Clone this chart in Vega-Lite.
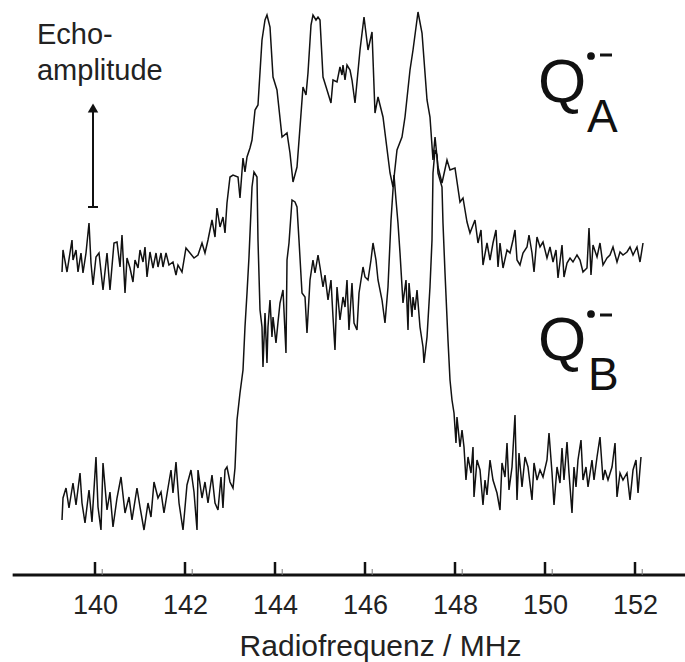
{
"$schema": "https://vega.github.io/schema/vega-lite/v6.json",
"width": 685, "height": 575,
"autosize": {"type": "none"},
"padding": {"left": 0, "top": 0, "right": 0, "bottom": 87},
"background": "white",
"config": {"view": {"stroke": null}, "font": "Liberation Sans"},
"datasets": {
"spectra": [
{"trace":"A","f":139.267,"a":303},{"trace":"A","f":139.289,"a":325},{"trace":"A","f":139.378,"a":303},{"trace":"A","f":139.489,"a":335},{"trace":"A","f":139.511,"a":315},{"trace":"A","f":139.578,"a":325},{"trace":"A","f":139.622,"a":303},{"trace":"A","f":139.689,"a":322},{"trace":"A","f":139.733,"a":302},{"trace":"A","f":139.8,"a":322},{"trace":"A","f":139.867,"a":352},{"trace":"A","f":139.911,"a":312},{"trace":"A","f":139.956,"a":290},{"trace":"A","f":140.022,"a":318},{"trace":"A","f":140.089,"a":322},{"trace":"A","f":140.178,"a":285},{"trace":"A","f":140.267,"a":322},{"trace":"A","f":140.333,"a":285},{"trace":"A","f":140.422,"a":332},{"trace":"A","f":140.489,"a":333},{"trace":"A","f":140.556,"a":308},{"trace":"A","f":140.6,"a":340},{"trace":"A","f":140.667,"a":282},{"trace":"A","f":140.711,"a":317},{"trace":"A","f":140.778,"a":307},{"trace":"A","f":140.844,"a":293},{"trace":"A","f":140.889,"a":315},{"trace":"A","f":140.956,"a":307},{"trace":"A","f":141.0,"a":325},{"trace":"A","f":141.067,"a":313},{"trace":"A","f":141.111,"a":328},{"trace":"A","f":141.156,"a":298},{"trace":"A","f":141.222,"a":323},{"trace":"A","f":141.289,"a":307},{"trace":"A","f":141.356,"a":322},{"trace":"A","f":141.4,"a":308},{"trace":"A","f":141.467,"a":322},{"trace":"A","f":141.511,"a":308},{"trace":"A","f":141.578,"a":322},{"trace":"A","f":141.644,"a":310},{"trace":"A","f":141.733,"a":313},{"trace":"A","f":141.8,"a":300},{"trace":"A","f":141.844,"a":310},{"trace":"A","f":141.933,"a":303},{"trace":"A","f":142.022,"a":327},{"trace":"A","f":142.111,"a":322},{"trace":"A","f":142.2,"a":317},{"trace":"A","f":142.289,"a":320},{"trace":"A","f":142.378,"a":332},{"trace":"A","f":142.444,"a":322},{"trace":"A","f":142.511,"a":335},{"trace":"A","f":142.6,"a":355},{"trace":"A","f":142.667,"a":338},{"trace":"A","f":142.711,"a":367},{"trace":"A","f":142.778,"a":348},{"trace":"A","f":142.844,"a":358},{"trace":"A","f":142.889,"a":342},{"trace":"A","f":142.933,"a":372},{"trace":"A","f":143.0,"a":398},{"trace":"A","f":143.067,"a":400},{"trace":"A","f":143.178,"a":398},{"trace":"A","f":143.222,"a":377},{"trace":"A","f":143.289,"a":417},{"trace":"A","f":143.333,"a":403},{"trace":"A","f":143.378,"a":418},{"trace":"A","f":143.444,"a":427},{"trace":"A","f":143.489,"a":435},{"trace":"A","f":143.556,"a":465},{"trace":"A","f":143.622,"a":470},{"trace":"A","f":143.711,"a":535},{"trace":"A","f":143.778,"a":555},{"trace":"A","f":143.822,"a":560},{"trace":"A","f":143.889,"a":548},{"trace":"A","f":143.956,"a":498},{"trace":"A","f":144.044,"a":485},{"trace":"A","f":144.156,"a":438},{"trace":"A","f":144.267,"a":442},{"trace":"A","f":144.333,"a":422},{"trace":"A","f":144.4,"a":393},{"trace":"A","f":144.489,"a":408},{"trace":"A","f":144.556,"a":448},{"trace":"A","f":144.622,"a":488},{"trace":"A","f":144.689,"a":480},{"trace":"A","f":144.733,"a":502},{"trace":"A","f":144.8,"a":550},{"trace":"A","f":144.844,"a":560},{"trace":"A","f":144.911,"a":555},{"trace":"A","f":144.956,"a":558},{"trace":"A","f":145.0,"a":555},{"trace":"A","f":145.067,"a":498},{"trace":"A","f":145.156,"a":485},{"trace":"A","f":145.244,"a":472},{"trace":"A","f":145.289,"a":495},{"trace":"A","f":145.378,"a":493},{"trace":"A","f":145.444,"a":508},{"trace":"A","f":145.489,"a":500},{"trace":"A","f":145.511,"a":510},{"trace":"A","f":145.556,"a":495},{"trace":"A","f":145.6,"a":510},{"trace":"A","f":145.667,"a":505},{"trace":"A","f":145.711,"a":495},{"trace":"A","f":145.778,"a":472},{"trace":"A","f":145.889,"a":525},{"trace":"A","f":145.978,"a":558},{"trace":"A","f":146.067,"a":525},{"trace":"A","f":146.156,"a":543},{"trace":"A","f":146.222,"a":462},{"trace":"A","f":146.289,"a":478},{"trace":"A","f":146.4,"a":458},{"trace":"A","f":146.556,"a":402},{"trace":"A","f":146.622,"a":388},{"trace":"A","f":146.711,"a":425},{"trace":"A","f":146.822,"a":438},{"trace":"A","f":146.889,"a":458},{"trace":"A","f":147.0,"a":505},{"trace":"A","f":147.067,"a":525},{"trace":"A","f":147.178,"a":563},{"trace":"A","f":147.267,"a":542},{"trace":"A","f":147.378,"a":475},{"trace":"A","f":147.444,"a":458},{"trace":"A","f":147.511,"a":415},{"trace":"A","f":147.556,"a":438},{"trace":"A","f":147.622,"a":408},{"trace":"A","f":147.711,"a":392},{"trace":"A","f":147.822,"a":415},{"trace":"A","f":147.889,"a":405},{"trace":"A","f":148.0,"a":407},{"trace":"A","f":148.111,"a":373},{"trace":"A","f":148.178,"a":377},{"trace":"A","f":148.267,"a":353},{"trace":"A","f":148.333,"a":342},{"trace":"A","f":148.444,"a":355},{"trace":"A","f":148.511,"a":332},{"trace":"A","f":148.578,"a":345},{"trace":"A","f":148.622,"a":310},{"trace":"A","f":148.711,"a":332},{"trace":"A","f":148.778,"a":315},{"trace":"A","f":148.844,"a":332},{"trace":"A","f":148.911,"a":345},{"trace":"A","f":148.956,"a":308},{"trace":"A","f":149.0,"a":332},{"trace":"A","f":149.067,"a":307},{"trace":"A","f":149.156,"a":325},{"trace":"A","f":149.222,"a":322},{"trace":"A","f":149.289,"a":335},{"trace":"A","f":149.333,"a":345},{"trace":"A","f":149.378,"a":315},{"trace":"A","f":149.444,"a":310},{"trace":"A","f":149.511,"a":322},{"trace":"A","f":149.6,"a":328},{"trace":"A","f":149.644,"a":340},{"trace":"A","f":149.711,"a":322},{"trace":"A","f":149.756,"a":303},{"trace":"A","f":149.822,"a":338},{"trace":"A","f":149.889,"a":328},{"trace":"A","f":149.956,"a":333},{"trace":"A","f":150.044,"a":317},{"trace":"A","f":150.111,"a":328},{"trace":"A","f":150.178,"a":313},{"trace":"A","f":150.244,"a":325},{"trace":"A","f":150.289,"a":297},{"trace":"A","f":150.378,"a":330},{"trace":"A","f":150.422,"a":298},{"trace":"A","f":150.489,"a":312},{"trace":"A","f":150.556,"a":317},{"trace":"A","f":150.622,"a":313},{"trace":"A","f":150.711,"a":320},{"trace":"A","f":150.778,"a":315},{"trace":"A","f":150.844,"a":303},{"trace":"A","f":150.933,"a":307},{"trace":"A","f":150.978,"a":347},{"trace":"A","f":151.022,"a":300},{"trace":"A","f":151.067,"a":330},{"trace":"A","f":151.156,"a":318},{"trace":"A","f":151.222,"a":332},{"trace":"A","f":151.289,"a":310},{"trace":"A","f":151.378,"a":317},{"trace":"A","f":151.444,"a":320},{"trace":"A","f":151.511,"a":328},{"trace":"A","f":151.6,"a":313},{"trace":"A","f":151.667,"a":323},{"trace":"A","f":151.733,"a":320},{"trace":"A","f":151.822,"a":323},{"trace":"A","f":151.889,"a":328},{"trace":"A","f":151.956,"a":320},{"trace":"A","f":152.044,"a":328},{"trace":"A","f":152.111,"a":313},{"trace":"A","f":152.178,"a":332},
{"trace":"B","f":139.267,"a":55},{"trace":"B","f":139.289,"a":77},{"trace":"B","f":139.356,"a":87},{"trace":"B","f":139.422,"a":67},{"trace":"B","f":139.511,"a":92},{"trace":"B","f":139.578,"a":70},{"trace":"B","f":139.667,"a":102},{"trace":"B","f":139.711,"a":72},{"trace":"B","f":139.778,"a":52},{"trace":"B","f":139.867,"a":85},{"trace":"B","f":139.933,"a":53},{"trace":"B","f":140.022,"a":118},{"trace":"B","f":140.067,"a":68},{"trace":"B","f":140.133,"a":45},{"trace":"B","f":140.178,"a":112},{"trace":"B","f":140.267,"a":65},{"trace":"B","f":140.333,"a":83},{"trace":"B","f":140.4,"a":48},{"trace":"B","f":140.489,"a":77},{"trace":"B","f":140.578,"a":98},{"trace":"B","f":140.667,"a":62},{"trace":"B","f":140.756,"a":78},{"trace":"B","f":140.822,"a":55},{"trace":"B","f":140.933,"a":87},{"trace":"B","f":141.0,"a":68},{"trace":"B","f":141.089,"a":45},{"trace":"B","f":141.178,"a":72},{"trace":"B","f":141.244,"a":58},{"trace":"B","f":141.311,"a":93},{"trace":"B","f":141.4,"a":77},{"trace":"B","f":141.467,"a":83},{"trace":"B","f":141.533,"a":62},{"trace":"B","f":141.622,"a":87},{"trace":"B","f":141.689,"a":105},{"trace":"B","f":141.733,"a":82},{"trace":"B","f":141.8,"a":113},{"trace":"B","f":141.867,"a":72},{"trace":"B","f":141.956,"a":45},{"trace":"B","f":142.044,"a":90},{"trace":"B","f":142.133,"a":105},{"trace":"B","f":142.2,"a":83},{"trace":"B","f":142.267,"a":45},{"trace":"B","f":142.289,"a":105},{"trace":"B","f":142.378,"a":77},{"trace":"B","f":142.444,"a":93},{"trace":"B","f":142.511,"a":72},{"trace":"B","f":142.6,"a":100},{"trace":"B","f":142.667,"a":72},{"trace":"B","f":142.733,"a":65},{"trace":"B","f":142.8,"a":98},{"trace":"B","f":142.844,"a":67},{"trace":"B","f":142.889,"a":105},{"trace":"B","f":142.933,"a":108},{"trace":"B","f":143.0,"a":93},{"trace":"B","f":143.067,"a":87},{"trace":"B","f":143.111,"a":107},{"trace":"B","f":143.156,"a":155},{"trace":"B","f":143.222,"a":182},{"trace":"B","f":143.289,"a":205},{"trace":"B","f":143.333,"a":248},{"trace":"B","f":143.378,"a":282},{"trace":"B","f":143.422,"a":318},{"trace":"B","f":143.489,"a":388},{"trace":"B","f":143.533,"a":403},{"trace":"B","f":143.6,"a":398},{"trace":"B","f":143.622,"a":335},{"trace":"B","f":143.667,"a":265},{"trace":"B","f":143.711,"a":248},{"trace":"B","f":143.733,"a":208},{"trace":"B","f":143.778,"a":262},{"trace":"B","f":143.822,"a":212},{"trace":"B","f":143.844,"a":248},{"trace":"B","f":143.889,"a":275},{"trace":"B","f":143.933,"a":238},{"trace":"B","f":143.956,"a":258},{"trace":"B","f":144.022,"a":232},{"trace":"B","f":144.067,"a":253},{"trace":"B","f":144.111,"a":272},{"trace":"B","f":144.178,"a":285},{"trace":"B","f":144.244,"a":222},{"trace":"B","f":144.267,"a":315},{"trace":"B","f":144.311,"a":332},{"trace":"B","f":144.378,"a":375},{"trace":"B","f":144.444,"a":373},{"trace":"B","f":144.489,"a":368},{"trace":"B","f":144.533,"a":335},{"trace":"B","f":144.6,"a":282},{"trace":"B","f":144.667,"a":278},{"trace":"B","f":144.711,"a":242},{"trace":"B","f":144.778,"a":295},{"trace":"B","f":144.844,"a":315},{"trace":"B","f":144.889,"a":302},{"trace":"B","f":144.956,"a":320},{"trace":"B","f":145.0,"a":308},{"trace":"B","f":145.067,"a":288},{"trace":"B","f":145.111,"a":300},{"trace":"B","f":145.178,"a":275},{"trace":"B","f":145.244,"a":295},{"trace":"B","f":145.289,"a":258},{"trace":"B","f":145.333,"a":225},{"trace":"B","f":145.378,"a":288},{"trace":"B","f":145.444,"a":255},{"trace":"B","f":145.511,"a":278},{"trace":"B","f":145.556,"a":268},{"trace":"B","f":145.6,"a":295},{"trace":"B","f":145.644,"a":245},{"trace":"B","f":145.711,"a":292},{"trace":"B","f":145.756,"a":252},{"trace":"B","f":145.822,"a":245},{"trace":"B","f":145.867,"a":282},{"trace":"B","f":145.956,"a":308},{"trace":"B","f":146.0,"a":298},{"trace":"B","f":146.067,"a":295},{"trace":"B","f":146.133,"a":315},{"trace":"B","f":146.178,"a":332},{"trace":"B","f":146.244,"a":315},{"trace":"B","f":146.289,"a":295},{"trace":"B","f":146.378,"a":275},{"trace":"B","f":146.444,"a":252},{"trace":"B","f":146.511,"a":288},{"trace":"B","f":146.578,"a":355},{"trace":"B","f":146.644,"a":400},{"trace":"B","f":146.689,"a":375},{"trace":"B","f":146.733,"a":352},{"trace":"B","f":146.778,"a":322},{"trace":"B","f":146.844,"a":272},{"trace":"B","f":146.911,"a":295},{"trace":"B","f":146.956,"a":245},{"trace":"B","f":146.978,"a":292},{"trace":"B","f":147.044,"a":258},{"trace":"B","f":147.067,"a":278},{"trace":"B","f":147.111,"a":265},{"trace":"B","f":147.156,"a":285},{"trace":"B","f":147.222,"a":248},{"trace":"B","f":147.289,"a":228},{"trace":"B","f":147.311,"a":212},{"trace":"B","f":147.378,"a":238},{"trace":"B","f":147.444,"a":288},{"trace":"B","f":147.489,"a":335},{"trace":"B","f":147.511,"a":402},{"trace":"B","f":147.556,"a":425},{"trace":"B","f":147.6,"a":420},{"trace":"B","f":147.622,"a":402},{"trace":"B","f":147.711,"a":388},{"trace":"B","f":147.733,"a":352},{"trace":"B","f":147.778,"a":302},{"trace":"B","f":147.844,"a":235},{"trace":"B","f":147.889,"a":195},{"trace":"B","f":147.933,"a":175},{"trace":"B","f":147.978,"a":162},{"trace":"B","f":148.022,"a":132},{"trace":"B","f":148.044,"a":158},{"trace":"B","f":148.111,"a":128},{"trace":"B","f":148.156,"a":145},{"trace":"B","f":148.2,"a":128},{"trace":"B","f":148.244,"a":95},{"trace":"B","f":148.289,"a":118},{"trace":"B","f":148.356,"a":102},{"trace":"B","f":148.4,"a":128},{"trace":"B","f":148.422,"a":78},{"trace":"B","f":148.489,"a":115},{"trace":"B","f":148.556,"a":105},{"trace":"B","f":148.622,"a":70},{"trace":"B","f":148.667,"a":95},{"trace":"B","f":148.711,"a":80},{"trace":"B","f":148.778,"a":115},{"trace":"B","f":148.844,"a":95},{"trace":"B","f":148.933,"a":82},{"trace":"B","f":149.0,"a":65},{"trace":"B","f":149.044,"a":112},{"trace":"B","f":149.111,"a":98},{"trace":"B","f":149.156,"a":132},{"trace":"B","f":149.2,"a":85},{"trace":"B","f":149.267,"a":108},{"trace":"B","f":149.333,"a":160},{"trace":"B","f":149.378,"a":75},{"trace":"B","f":149.422,"a":122},{"trace":"B","f":149.489,"a":88},{"trace":"B","f":149.556,"a":118},{"trace":"B","f":149.622,"a":108},{"trace":"B","f":149.711,"a":75},{"trace":"B","f":149.756,"a":112},{"trace":"B","f":149.822,"a":95},{"trace":"B","f":149.889,"a":105},{"trace":"B","f":149.956,"a":98},{"trace":"B","f":150.044,"a":115},{"trace":"B","f":150.089,"a":142},{"trace":"B","f":150.156,"a":102},{"trace":"B","f":150.2,"a":70},{"trace":"B","f":150.267,"a":108},{"trace":"B","f":150.333,"a":92},{"trace":"B","f":150.378,"a":127},{"trace":"B","f":150.422,"a":95},{"trace":"B","f":150.489,"a":133},{"trace":"B","f":150.533,"a":102},{"trace":"B","f":150.6,"a":62},{"trace":"B","f":150.644,"a":108},{"trace":"B","f":150.689,"a":88},{"trace":"B","f":150.733,"a":115},{"trace":"B","f":150.8,"a":135},{"trace":"B","f":150.844,"a":95},{"trace":"B","f":150.911,"a":108},{"trace":"B","f":150.956,"a":88},{"trace":"B","f":151.044,"a":115},{"trace":"B","f":151.089,"a":95},{"trace":"B","f":151.156,"a":118},{"trace":"B","f":151.222,"a":138},{"trace":"B","f":151.289,"a":95},{"trace":"B","f":151.333,"a":105},{"trace":"B","f":151.4,"a":95},{"trace":"B","f":151.489,"a":108},{"trace":"B","f":151.556,"a":132},{"trace":"B","f":151.6,"a":78},{"trace":"B","f":151.667,"a":102},{"trace":"B","f":151.733,"a":95},{"trace":"B","f":151.822,"a":102},{"trace":"B","f":151.889,"a":75},{"trace":"B","f":151.956,"a":105},{"trace":"B","f":152.022,"a":115},{"trace":"B","f":152.067,"a":82},{"trace":"B","f":152.133,"a":118}
]
},
"encoding": {
"x": {"field": "f", "type": "quantitative",
 "scale": {"domain": [137.889, 153.111], "nice": false, "zero": false},
 "axis": {"values": [140,142,144,146,148,150,152], "domain": false, "ticks": false, "grid": false,
  "labelFontSize": 27, "labelPadding": 17, "labelColor": "#222", "labelFont": "Liberation Sans",
  "title": "Radiofrequenz / MHz", "titleFontSize": 30, "titleFontWeight": "normal", "titlePadding": 13,
  "titleX": 380, "titleColor": "#222", "titleFont": "Liberation Sans"}},
"y": {"field": "a", "type": "quantitative", "scale": {"domain": [0, 575], "nice": false, "zero": false}, "axis": null}
},
"layer": [
{"data": {"name": "spectra"}, "mark": {"type": "line", "stroke": "#111", "strokeWidth": 1.5}, "encoding": {"detail": {"field": "trace"}}},
{"data": {"values": [{"f": 138.17, "f2": 153.111, "a": 0}]}, "mark": {"type": "rule", "strokeWidth": 3, "color": "#111"}, "encoding": {"x2": {"field": "f2"}}},
{"data": {"values": [{"f":140,"a":0,"a2":13},{"f":142,"a":0,"a2":13},{"f":144,"a":0,"a2":13},{"f":146,"a":0,"a2":13},{"f":148,"a":0,"a2":13},{"f":150,"a":0,"a2":13},{"f":152,"a":0,"a2":13}]}, "mark": {"type": "rule", "strokeWidth": 2.5, "color": "#111"}, "encoding": {"y2": {"field": "a2"}}},
{"data": {"values": [{"f":140.16,"a":0,"a2":6},{"f":142.16,"a":0,"a2":6},{"f":144.16,"a":0,"a2":6},{"f":146.16,"a":0,"a2":6},{"f":148.16,"a":0,"a2":6},{"f":150.16,"a":0,"a2":6},{"f":152.16,"a":0,"a2":6}]}, "mark": {"type": "rule", "strokeWidth": 1, "color": "#777"}, "encoding": {"y2": {"field": "a2"}}},
{"data": {"values": [{"f": 139.956, "a": 368, "a2": 463}]}, "mark": {"type": "rule", "strokeWidth": 2, "color": "#111"}, "encoding": {"y2": {"field": "a2"}}},
{"data": {"values": [{"f": 139.845, "f2": 140.067, "a": 368}]}, "mark": {"type": "rule", "strokeWidth": 2, "color": "#111"}, "encoding": {"x2": {"field": "f2"}}},
{"data": {"values": [{"f": 139.956, "a": 467}]}, "mark": {"type": "point", "shape": "triangle-up", "filled": true, "size": 110, "color": "#111", "opacity": 1}},
{"data": {"values": [{"f": 138.711, "a": 531, "t": "Echo-"}, {"f": 138.711, "a": 495, "t": "amplitude"}]}, "mark": {"type": "text", "align": "left", "baseline": "alphabetic", "fontSize": 29, "color": "#222", "font": "Liberation Sans"}, "encoding": {"text": {"field": "t"}}},
{"data": {"values": [{"f": 149.845, "a": 473, "t": "Q"}, {"f": 149.845, "a": 215, "t": "Q"}]}, "mark": {"type": "text", "align": "left", "baseline": "alphabetic", "fontSize": 62, "color": "#111", "font": "Liberation Sans"}, "encoding": {"text": {"field": "t"}}},
{"data": {"values": [{"f": 150.933, "a": 443, "t": "A"}, {"f": 150.956, "a": 185, "t": "B"}]}, "mark": {"type": "text", "align": "left", "baseline": "alphabetic", "fontSize": 46, "color": "#111", "font": "Liberation Sans"}, "encoding": {"text": {"field": "t"}}},
{"data": {"values": [{"f": 151.022, "a": 519}, {"f": 151.022, "a": 261}]}, "mark": {"type": "point", "shape": "circle", "filled": true, "size": 60, "color": "#111", "opacity": 1}},
{"data": {"values": [{"f": 151.222, "f2": 151.489, "a": 520}, {"f": 151.222, "f2": 151.489, "a": 260}]}, "mark": {"type": "rule", "strokeWidth": 3, "color": "#111"}, "encoding": {"x2": {"field": "f2"}}}
]
}
